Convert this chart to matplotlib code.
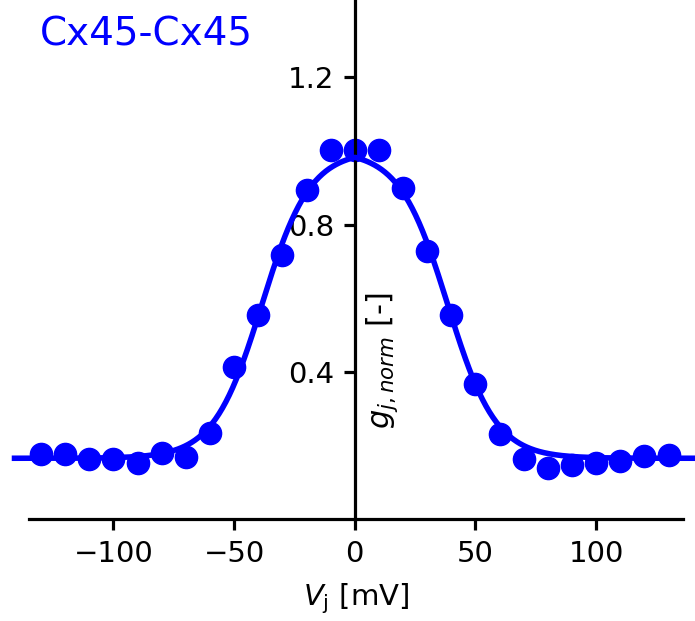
import numpy as np
import matplotlib
matplotlib.use("Agg")
import matplotlib.pyplot as plt

# Data
vj = [-130, -120, -110, -100, -90, -80, -70, -60, -50, -40, -30, -20, -10,
      0, 10, 20, 30, 40, 50, 60, 70, 80, 90, 100, 110, 120, 130]
gj = [0.176, 0.176, 0.162, 0.164, 0.153, 0.180, 0.168, 0.233, 0.413, 0.555,
      0.718, 0.895, 1.003, 1.003, 1.003, 0.899, 0.727, 0.553, 0.366, 0.230,
      0.162, 0.139, 0.148, 0.153, 0.157, 0.171, 0.173]

# Boltzmann fit parameters
g_min = 0.165
g_max = 1.0
A = 0.1
V0 = 38.5

title = "Cx45-Cx45"
xticks = [-100, -50, 0, 50, 100]
yticks = [0.4, 0.8, 1.2]

fig = plt.figure(figsize=(6.95, 6.21), dpi=100)
ax = fig.add_axes([29/695, 1-519/621, 654/695, 519/621])

vfit = np.linspace(-141, 141, 600)
gfit = g_min + (g_max - g_min) / (1 + np.exp(A * (np.abs(vfit) - V0)))

ax.plot(vj, gj, 'o', color='b', markersize=16, zorder=2.4, clip_on=False)
ax.plot(vfit, gfit, '-', color='b', linewidth=4, zorder=2.6, clip_on=False)

ax.set_xlim(-135, 136)
ax.set_ylim(0, 1.41)
ax.spines['left'].set_position(('data', 0))
ax.spines['top'].set_visible(False)
ax.spines['right'].set_visible(False)
for s in ['left', 'bottom']:
    ax.spines[s].set_linewidth(2.3)
ax.set_xticks(xticks)
ax.set_yticks(yticks)
ax.set_yticklabels([str(t) for t in yticks])
ax.tick_params(axis='both', labelsize=21, width=2.3, length=8, direction='out', pad=7)

ax.set_xlabel(r'$V_\mathrm{j}$ [mV]', fontsize=21, labelpad=10)
ax.text(0.54, 0.306, r'$g_{j,norm}$ [-]', rotation=90, ha='center', va='center',
        fontsize=22, transform=ax.transAxes)

fig.text(40/695, 1-35/621, title, color='b', fontsize=28, ha='left', va='center')

fig.savefig('out.png', dpi=100)
